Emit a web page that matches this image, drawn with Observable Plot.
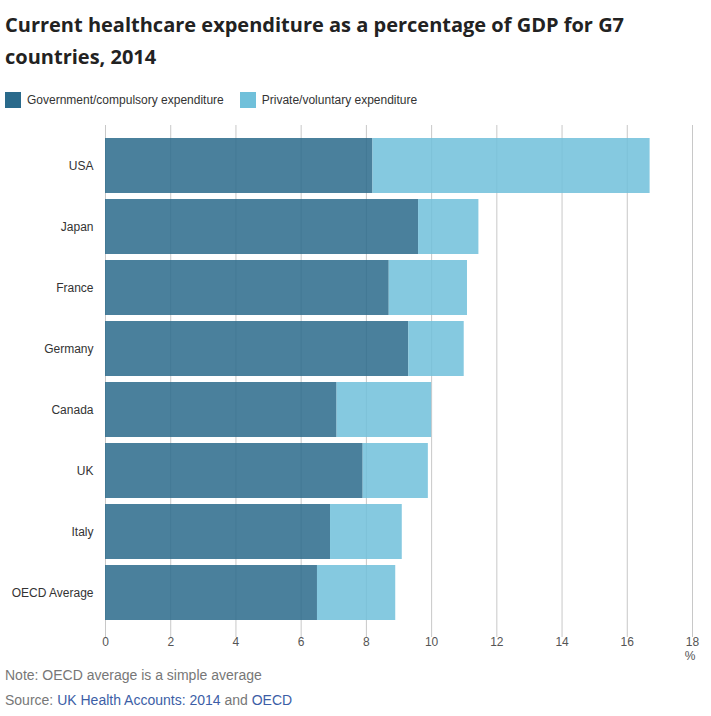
<!DOCTYPE html>
<html>
<head>
<meta charset="utf-8">
<script src="https://cdn.jsdelivr.net/npm/d3@7"></script>
<script src="https://cdn.jsdelivr.net/npm/@observablehq/plot@0.6"></script>
<style>
  html, body { margin: 0; padding: 0; background: #fff; overflow: hidden; }
  body { width: 711px; height: 716px; font-family: "Liberation Sans", Arial, sans-serif; }
  #title { font-family: "Open Sans", sans-serif; font-weight: 700; font-size: 20px; line-height: 32px; color: #222; padding: 9px 0 0 5px; width: 660px; }
  #legend { display: flex; align-items: center; margin: 18px 0 0 5px; height: 18px; font-size: 12px; color: #333; }
  .sw { width: 16px; height: 16px; display: inline-block; margin-right: 6px; }
  .item { display: flex; align-items: center; margin-right: 16px; }
  #chart { margin-top: 2px; height: 558px; }
  #chart svg { display: block; }
  .foot { font-size: 14px; color: #777; margin-left: 5px; }
  #note { margin-top: -3px; line-height: 18px; }
  #source { margin-top: 7px; line-height: 18px; }
  #source a { color: #3c5ea6; text-decoration: none; }
</style>
</head>
<body>
<div id="title">Current healthcare expenditure as a percentage of GDP for G7 countries, 2014</div>
<div id="legend"></div>
<div id="chart"></div>
<div id="note" class="foot">Note: OECD average is a simple average</div>
<div id="source" class="foot">Source: <a>UK Health Accounts: 2014</a> and <a>OECD</a></div>
<script>
const countries = ["USA", "Japan", "France", "Germany", "Canada", "UK", "Italy", "OECD Average"];
const government = [8.2, 9.6, 8.7, 9.3, 7.1, 7.9, 6.9, 6.5];
const privateExp = [8.5, 1.85, 2.4, 1.7, 2.9, 2.0, 2.2, 2.4];
const seriesNames = ["Government/compulsory expenditure", "Private/voluntary expenditure"];
const seriesColors = ["#2a6a8b", "#70c0da"];
const xTicks = [0, 2, 4, 6, 8, 10, 12, 14, 16, 18];

const rows = [];
countries.forEach((c, i) => {
  rows.push({country: c, type: seriesNames[0], value: government[i]});
  rows.push({country: c, type: seriesNames[1], value: privateExp[i]});
});

const legend = document.getElementById("legend");
seriesNames.forEach((s, i) => {
  const it = document.createElement("span");
  it.className = "item";
  it.innerHTML = `<span class="sw" style="background:${seriesColors[i]}"></span>${s}`;
  legend.appendChild(it);
});

const chart = Plot.plot({
  width: 711,
  height: 558,
  marginLeft: 105,
  marginRight: 19,
  marginTop: 19,
  marginBottom: 41,
  style: {fontFamily: "'Liberation Sans', Arial, sans-serif", fontSize: "12px", color: "#444", background: "#fff"},
  x: {domain: [0, 18], ticks: xTicks, label: null},
  y: {domain: countries, padding: 0.1, label: null},
  color: {domain: seriesNames, range: seriesColors},
  marks: [
    Plot.ruleX(xTicks, {stroke: "#c8c8c8", strokeWidth: 1, insetTop: -5, insetBottom: -9}),
    Plot.barX(rows, Plot.stackX({y: "country", x: "value", fill: "type", fillOpacity: 0.85, order: null})),
    Plot.axisX({ticks: xTicks, tickSize: 0, tickPadding: 9, fontSize: 12, fill: "#555", label: null}),
    Plot.axisY({tickSize: 0, tickPadding: 12, fontSize: 12, fill: "#333", label: null}),
    Plot.text(["%"], {x: 18, frameAnchor: "bottom", dy: 31, textAnchor: "end", dx: 3, fill: "#555", fontSize: 12})
  ]
});
document.getElementById("chart").appendChild(chart);
</script>
</body>
</html>
